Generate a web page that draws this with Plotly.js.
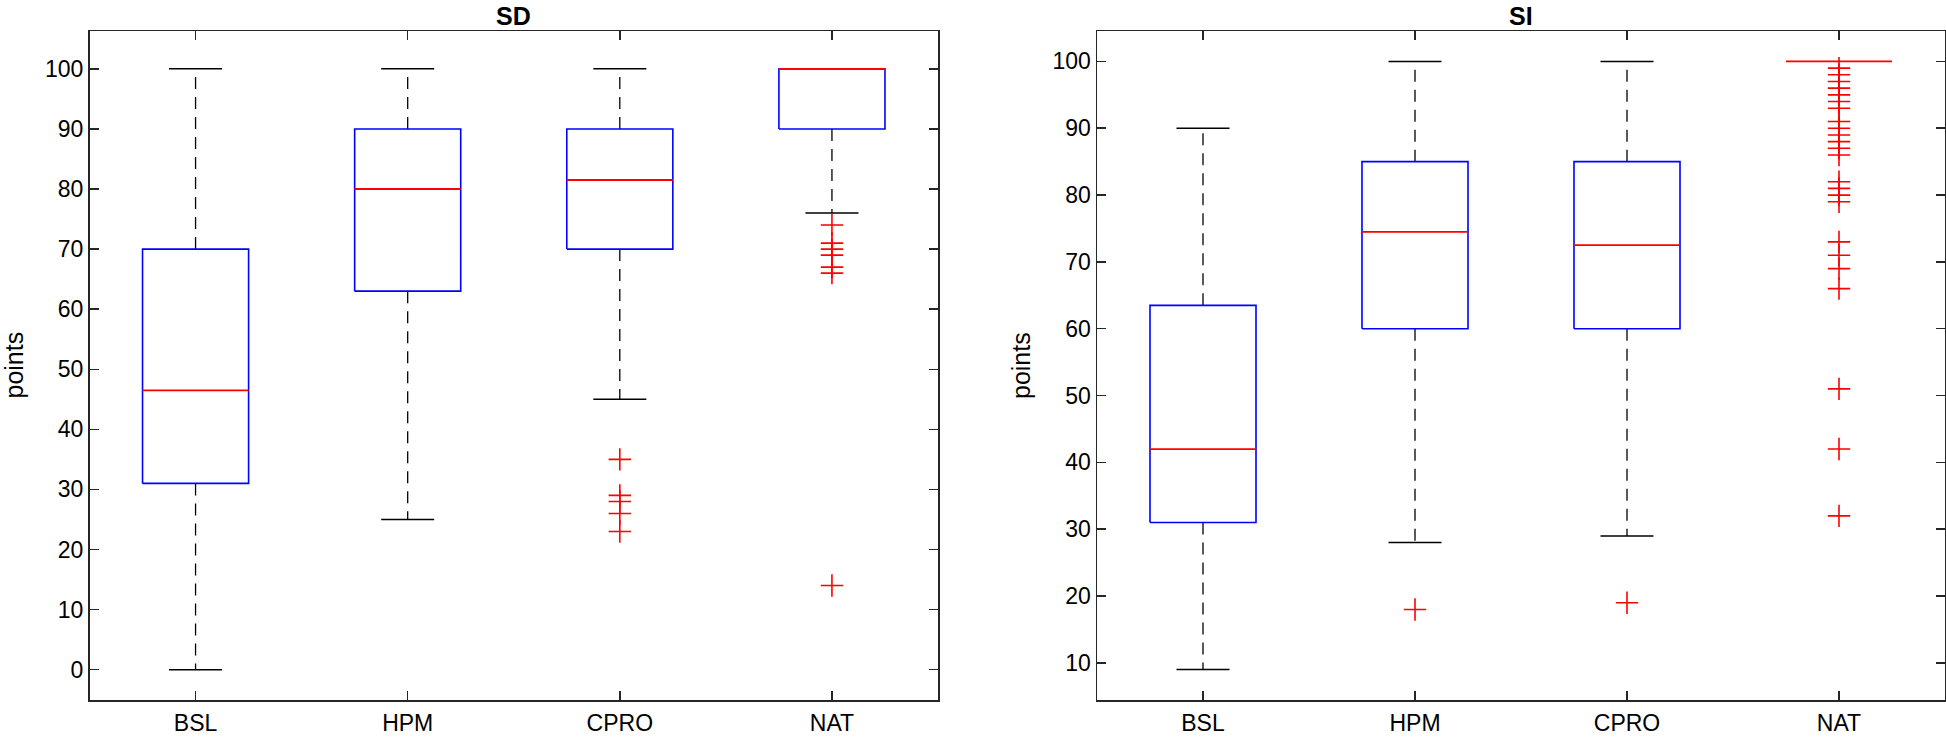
<!DOCTYPE html>
<html>
<head>
<meta charset="utf-8">
<script src="https://cdn.plot.ly/plotly-3.0.1.min.js"></script>
<style>html,body{margin:0;padding:0;background:#fff;}#chart{width:1946px;height:738px;}</style>
</head>
<body>
<div id="chart"></div>
<script>
// ---- data ----
const categories = ['BSL', 'HPM', 'CPRO', 'NAT'];

// SD panel
const sdQ1 = [31, 63, 70, 90];
const sdMedian = [46.5, 80, 81.5, 100];
const sdQ3 = [70, 90, 90, 100];
const sdLowerWhisker = [0, 25, 45, 76];
const sdUpperWhisker = [100, 100, 100, 100];
const sdOutliers = [[], [], [35, 29, 28, 26, 23], [74, 71, 70, 69, 67, 66, 14]];

// SI panel
const siQ1 = [31, 60, 60, 100];
const siMedian = [42, 74.5, 72.5, 100];
const siQ3 = [63.5, 85, 85, 100];
const siLowerWhisker = [9, 28, 29, 100];
const siUpperWhisker = [90, 100, 100, 100];
const siOutliers = [[], [18], [19],
  [99, 98, 97, 96, 95, 94, 93, 91, 90, 89, 88, 87, 86, 82, 81, 80, 79, 73, 71, 69, 66, 51, 42, 32]];

const panelTitles = ['SD', 'SI'];
const yLabel = 'points';

// ---- styling ----
const BOX_HALF = 0.25, CAP_HALF = 0.125;
const FONT = 'Liberation Sans, Arial, Helvetica, sans-serif';

function panelTraces(q1, med, q3, lo, hi, outs, xa, ya) {
  const bx = [], by = [], mx = [], my = [], wx = [], wy = [], cx = [], cy = [], ox = [], oy = [];
  categories.forEach((c, i) => {
    const x = i + 1;
    if (q3[i] > q1[i]) {
      bx.push(x - BOX_HALF, x + BOX_HALF, x + BOX_HALF, x - BOX_HALF, x - BOX_HALF, null);
      by.push(q1[i], q1[i], q3[i], q3[i], q1[i], null);
    }
    mx.push(x - BOX_HALF, x + BOX_HALF, null);
    my.push(med[i], med[i], null);
    if (hi[i] > q3[i]) {
      wx.push(x, x, null); wy.push(q3[i], hi[i], null);
      cx.push(x - CAP_HALF, x + CAP_HALF, null); cy.push(hi[i], hi[i], null);
    }
    if (lo[i] < q1[i]) {
      wx.push(x, x, null); wy.push(q1[i], lo[i], null);
      cx.push(x - CAP_HALF, x + CAP_HALF, null); cy.push(lo[i], lo[i], null);
    }
    outs[i].forEach(v => { ox.push(x); oy.push(v); });
  });
  const base = {type: 'scatter', xaxis: xa, yaxis: ya, hoverinfo: 'skip', showlegend: false};
  return [
    Object.assign({}, base, {x: wx, y: wy, mode: 'lines', line: {color: '#000', width: 1.3, dash: '12px,8px'}}),
    Object.assign({}, base, {x: cx, y: cy, mode: 'lines', line: {color: '#000', width: 1.5}}),
    Object.assign({}, base, {x: bx, y: by, mode: 'lines', line: {color: '#0000ff', width: 1.6}}),
    Object.assign({}, base, {x: mx, y: my, mode: 'lines', line: {color: '#ff0000', width: 1.8}}),
    Object.assign({}, base, {x: ox, y: oy, mode: 'markers',
      marker: {symbol: 'cross-thin-open', size: 16, color: '#ff0000', line: {color: '#ff0000', width: 1.6}}})
  ];
}

const data = [].concat(
  panelTraces(sdQ1, sdMedian, sdQ3, sdLowerWhisker, sdUpperWhisker, sdOutliers, 'x', 'y'),
  panelTraces(siQ1, siMedian, siQ3, siLowerWhisker, siUpperWhisker, siOutliers, 'x2', 'y2')
);

const W = 1946, H = 738;
const xAxisBase = {
  range: [0.5, 4.5], tickvals: [1, 2, 3, 4], ticktext: categories,
  ticks: 'inside', ticklen: 9, tickwidth: 1.5, tickcolor: '#262626',
  showline: true, mirror: 'ticks', linecolor: '#262626', linewidth: 1.5,
  showgrid: false, zeroline: false, fixedrange: true, ticklabelstandoff: 2,
  tickfont: {family: FONT, size: 23, color: '#000'}
};
const yAxisBase = {
  dtick: 10, tick0: 0,
  ticks: 'inside', ticklen: 9, tickwidth: 1.5, tickcolor: '#262626',
  showline: true, mirror: 'ticks', linecolor: '#262626', linewidth: 1.5,
  showgrid: false, zeroline: false, fixedrange: true,
  tickfont: {family: FONT, size: 23, color: '#000'}
};
const yDom = [38 / H, 707 / H];
const layout = {
  width: W, height: H,
  margin: {l: 0, r: 0, t: 0, b: 0, pad: 0},
  paper_bgcolor: '#fff', plot_bgcolor: '#fff',
  xaxis: Object.assign({}, xAxisBase, {domain: [89.5 / W, 938 / W], anchor: 'y'}),
  yaxis: Object.assign({}, yAxisBase, {domain: yDom, range: [-5.05, 106.3], anchor: 'x'}),
  xaxis2: Object.assign({}, xAxisBase, {domain: [1097 / W, 1945 / W], anchor: 'y2'}),
  yaxis2: Object.assign({}, yAxisBase, {domain: yDom, range: [4.45, 104.55], anchor: 'x2'}),
  annotations: [
    {text: '<b>' + panelTitles[0] + '</b>', xref: 'x domain', yref: 'paper', x: 0.5, y: 1,
     xanchor: 'center', yanchor: 'top', showarrow: false, font: {family: FONT, size: 25, color: '#000'}},
    {text: '<b>' + panelTitles[1] + '</b>', xref: 'x2 domain', yref: 'paper', x: 0.5, y: 1,
     xanchor: 'center', yanchor: 'top', showarrow: false, font: {family: FONT, size: 25, color: '#000'}},
    {text: yLabel, xref: 'paper', yref: 'paper', x: 14 / W, y: 1 - 365.5 / H, textangle: -90,
     xanchor: 'center', yanchor: 'middle', showarrow: false, font: {family: FONT, size: 25, color: '#000'}},
    {text: yLabel, xref: 'paper', yref: 'paper', x: 1021.5 / W, y: 1 - 365.5 / H, textangle: -90,
     xanchor: 'center', yanchor: 'middle', showarrow: false, font: {family: FONT, size: 25, color: '#000'}}
  ]
};
Plotly.newPlot('chart', data, layout, {displayModeBar: false, staticPlot: true});
</script>
</body>
</html>
